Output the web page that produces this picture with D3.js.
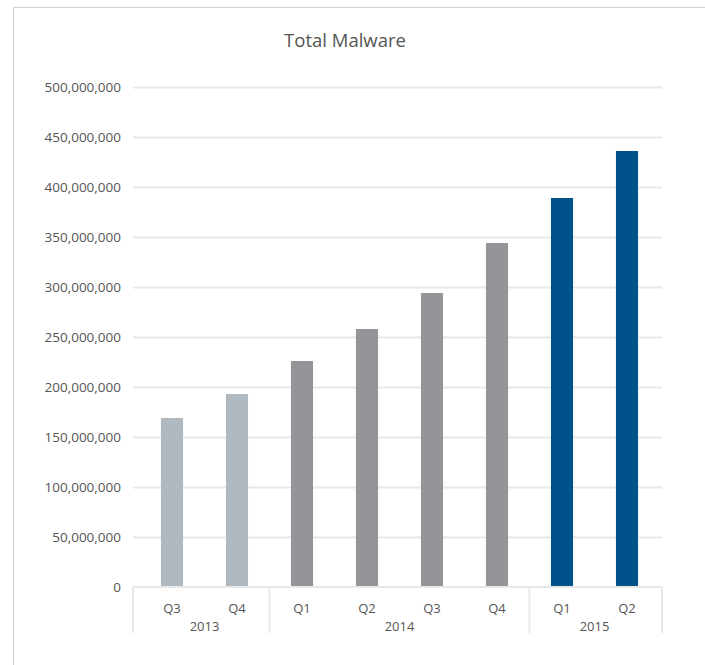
<!DOCTYPE html>
<html>
<head>
<meta charset="utf-8">
<script src="https://cdn.jsdelivr.net/npm/d3@7"></script>
<style>
  body { margin: 0; background: #fff; }
  svg { display: block; font-family: "Open Sans", "Noto Sans", sans-serif; }
</style>
</head>
<body>
<div class="chart"></div>
<script>
// data
var quarters = ["Q3", "Q4", "Q1", "Q2", "Q3", "Q4", "Q1", "Q2"];
var years = ["2013", "2013", "2014", "2014", "2014", "2014", "2015", "2015"];
var totals = [169000000, 193000000, 226000000, 258000000, 294000000, 344000000, 389000000, 436000000];
var yearNames = ["2013", "2014", "2015"];
var yearColors = ["#b1b9c0", "#939598", "#00538a"];
var yTicks = [0, 50000000, 100000000, 150000000, 200000000, 250000000, 300000000, 350000000, 400000000, 450000000, 500000000];

var w = 705, h = 665;
// plot edges (don't call it "top", that's window.top)
var plotL = 133, plotR = 662, plotT = 87, plotB = 587;

var svg = d3.select(".chart").append("svg").attr("width", w).attr("height", h);

// panel border
svg.append("path").attr("d", "M13.5," + h + "V7.5H" + w)
   .attr("fill", "none").attr("stroke", "#d0d0d0").attr("stroke-width", 1);

svg.append("text").text("Total Malware")
   .attr("x", 345).attr("y", 47)
   .attr("text-anchor", "middle")
   .attr("font-size", 18.5).attr("fill", "#555");

var idx = d3.range(totals.length);
var x = d3.scaleBand().domain(idx).range([139.5, 659.5]).paddingInner(0.66).paddingOuter(0.33);
var y = d3.scaleLinear().domain([0, 500000000]).range([plotB, plotT]);
var color = d3.scaleOrdinal().domain(yearNames).range(yearColors);

// gridlines + y labels
var yAxis = d3.axisLeft(y).tickValues(yTicks).tickSize(0).tickPadding(12)
  .tickFormat(d3.format(","));
var gy = svg.append("g").attr("transform", "translate(" + plotL + ",0)").call(yAxis);
gy.select(".domain").remove();
gy.attr("font-family", null);
gy.selectAll("text").attr("font-size", 13.5).attr("fill", "#555");
gy.selectAll(".tick").filter(function(d){ return d > 0; }).append("line")
  .attr("x1", 0).attr("x2", plotR - plotL)
  .attr("stroke", "#e8e8e8").attr("stroke-width", 2);

// bars
svg.selectAll("rect.bar")
   .data(totals)
   .enter()
   .append("rect")
   .attr("class", "bar")
   .attr("x", function(d, i){ return x(i); })
   .attr("width", x.bandwidth())
   .attr("y", function(d){ return y(d); })
   .attr("height", function(d){ return plotB - y(d); })
   .attr("fill", function(d, i){ return color(years[i]); });

// x axis baseline
svg.append("line").attr("x1", plotL).attr("x2", plotR + 1).attr("y1", plotB).attr("y2", plotB)
   .attr("stroke", "#e8e8e8").attr("stroke-width", 2);

// quarter labels
svg.selectAll("text.q")
   .data(quarters)
   .enter()
   .append("text")
   .attr("class", "q")
   .text(function(d){ return d; })
   .attr("x", function(d, i){ return x(i) + x.bandwidth() / 2; })
   .attr("y", 613)
   .attr("text-anchor", "middle")
   .attr("font-size", 13).attr("fill", "#555");

// year groups
var groups = yearNames.map(function(yr){
  var ii = idx.filter(function(i){ return years[i] === yr; });
  return { year: yr, first: ii[0], last: ii[ii.length - 1] };
});

var seps = [plotL];
groups.forEach(function(g, k){
  if (k < groups.length - 1) seps.push(x(g.last) + x.bandwidth() / 2 + x.step() / 2);
});
seps.push(plotR);

svg.selectAll("line.sep")
   .data(seps)
   .enter()
   .append("line")
   .attr("class", "sep")
   .attr("x1", function(d){ return d; }).attr("x2", function(d){ return d; })
   .attr("y1", plotB).attr("y2", 633)
   .attr("stroke", "#e8e8e8").attr("stroke-width", 2);

svg.selectAll("text.yr")
   .data(groups)
   .enter()
   .append("text")
   .attr("class", "yr")
   .text(function(d){ return d.year; })
   .attr("x", function(d){ return (x(d.first) + x(d.last) + x.bandwidth()) / 2; })
   .attr("y", 631)
   .attr("text-anchor", "middle")
   .attr("font-size", 13).attr("fill", "#555");
</script>
</body>
</html>
